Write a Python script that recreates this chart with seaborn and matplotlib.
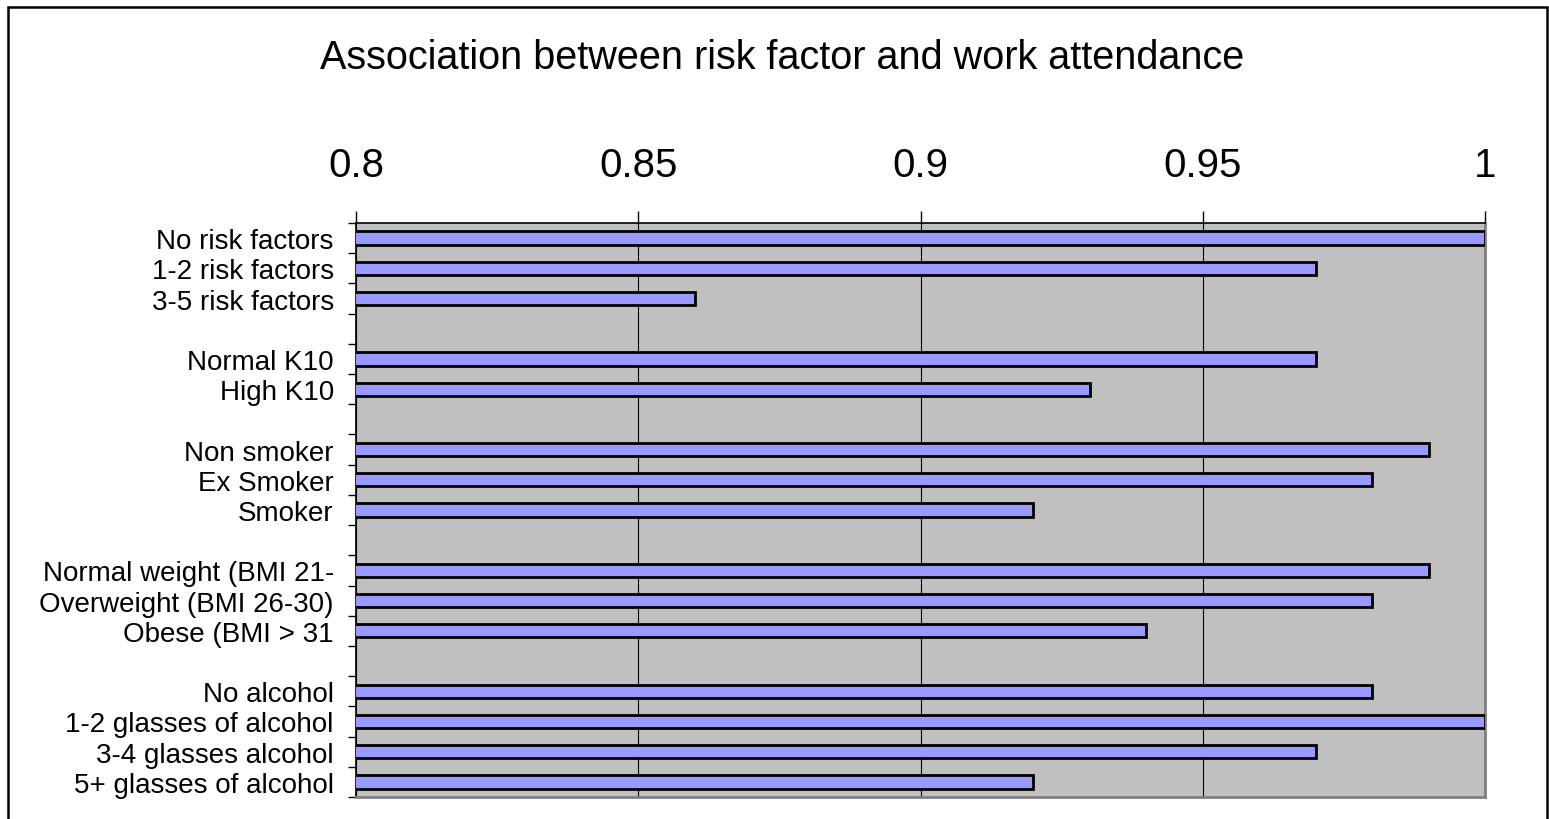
import matplotlib
matplotlib.use("Agg")
import matplotlib.pyplot as plt
from matplotlib.patches import Rectangle
from matplotlib.ticker import FixedLocator, NullFormatter
import seaborn as sns
import pandas as pd

# Risk factor groups and their work attendance ratios
risk_load = ["No risk factors", "1-2 risk factors", "3-5 risk factors"]
risk_load_vals = [1.00, 0.97, 0.86]

k10 = ["Normal K10", "High K10"]
k10_vals = [0.97, 0.93]

smoking = ["Non smoker", "Ex Smoker", "Smoker"]
smoking_vals = [0.99, 0.98, 0.92]

weight = ["Normal weight (BMI 21-", "Overweight (BMI 26-30)", "Obese (BMI > 31"]
weight_vals = [0.99, 0.98, 0.94]

alcohol = ["No alcohol", "1-2 glasses of alcohol", "3-4 glasses alcohol", "5+ glasses of alcohol"]
alcohol_vals = [0.98, 1.00, 0.97, 0.92]

x_ticks = [0.8, 0.85, 0.9, 0.95, 1.0]
x_tick_labels = ["0.8", "0.85", "0.9", "0.95", "1"]

groups = [(risk_load, risk_load_vals), (k10, k10_vals), (smoking, smoking_vals),
          (weight, weight_vals), (alcohol, alcohol_vals)]

rows = []
order = []
for i, (cats, vals) in enumerate(groups):
    if i > 0:
        order.append(f"_gap{i}")
    for c, v in zip(cats, vals):
        rows.append({"factor": c, "attendance": v})
        order.append(c)
df = pd.DataFrame(rows)

sns.set_theme(style="white")
plt.rcParams["font.family"] = ["Liberation Sans", "DejaVu Sans"]

fig = plt.figure(figsize=(15.49, 8.2), dpi=100)
ax = fig.add_axes([356 / 1549, 1 - 798 / 820, (1485 - 356) / 1549, (798 - 224) / 820])
ax.set_facecolor("#C0C0C0")

sns.barplot(data=df, x="attendance", y="factor", order=order, orient="h",
            color="#9999FF", saturation=1, width=0.44, edgecolor="black",
            linewidth=2.0, ax=ax, zorder=3)

ax.set_xlim(0.8, 1.0)
n = len(order)
ax.set_ylim(n - 0.5, -0.5)

# value axis on top with vertical gridlines
ax.set_xticks(x_ticks)
ax.set_xticklabels(x_tick_labels, fontsize=29)
ax.xaxis.tick_top()
ax.tick_params(axis="x", direction="out", length=9, width=1, color="black",
               pad=19, labelcolor="black")
ax.grid(axis="x", color="black", linewidth=0.8, zorder=1)
ax.set_axisbelow(True)

# category labels centred on bars, tick marks on slot boundaries
labels = ["" if o.startswith("_gap") else o for o in order]
ax.yaxis.set_minor_locator(FixedLocator(list(range(n))))
ax.set_yticks([i - 0.5 for i in range(n + 1)])
ax.yaxis.set_major_formatter(NullFormatter())
ax.set_yticklabels(labels, minor=True, fontsize=20)
ax.tick_params(axis="y", which="major", direction="out", length=6, width=1,
               color="black", left=True)
ax.tick_params(axis="y", which="minor", length=0, pad=16, labelcolor="black")

ax.set_xlabel("")
ax.set_ylabel("")

for side in ["top", "left"]:
    ax.spines[side].set_color("black")
    ax.spines[side].set_linewidth(1.2)
for side in ["right", "bottom"]:
    ax.spines[side].set_color("#808080")
    ax.spines[side].set_linewidth(2)

fig.text(0.505, 1 - 58 / 820, "Association between risk factor and work attendance",
         ha="center", va="center", fontsize=28.5, color="black")

# chart area border
fig.patches.append(Rectangle((8 / 1549, -0.02), (1547 - 8) / 1549, 1.02 - 8 / 820,
                             transform=fig.transFigure, fill=False,
                             edgecolor="black", linewidth=1.8))

fig.savefig("out.png", dpi=100, facecolor="white")
